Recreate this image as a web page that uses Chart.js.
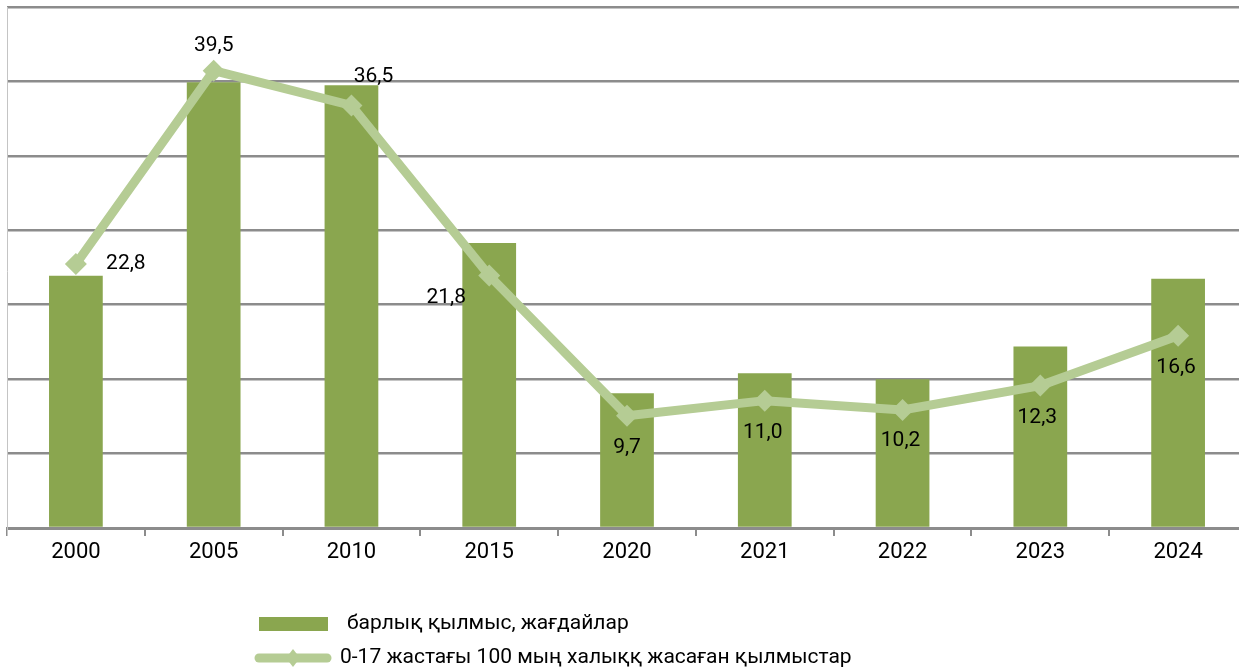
<!DOCTYPE html>
<html>
<head>
<meta charset="utf-8">
<script src="https://cdn.jsdelivr.net/npm/chart.js@4/dist/chart.umd.min.js"></script>
<style>
  html, body { margin: 0; padding: 0; background: #fff; overflow: hidden; }
  #wrap { position: relative; width: 1247px; height: 672px; }
</style>
</head>
<body>
<div id="wrap"><canvas id="crime-chart" width="1247" height="672"></canvas></div>
<script>
const years = ['2000', '2005', '2010', '2015', '2020', '2021', '2022', '2023', '2024'];
// барлық қылмыс, жағдайлар
const totalCases = [3390, 5990, 5950, 3830, 1810, 2080, 2000, 2440, 3350];
// 0-17 жастағы 100 мың халыққа
const youthRate = [22.8, 39.5, 36.5, 21.8, 9.7, 11.0, 10.2, 12.3, 16.6];

const barLabel = 'барлық қылмыс, жағдайлар';
const lineLabel = '0-17 жастағы 100 мың халыққ жасаған қылмыстар';

const BAR_COLOR = '#8aa64f';
const LINE_COLOR = '#b5cc94';
const GRID_COLOR = '#8c8c8c';
const FONT = 'Roboto, "Noto Sans", sans-serif';

// where each value label sits relative to its point: [dx, dy]
const labelOffsets = [[50, 0], [0, -25], [22, -29], [-43, 22], [0, 32], [-2, 32], [-2, 31], [-3, 32], [-2, 32]];

const valueLabels = {
  id: 'valueLabels',
  afterDatasetsDraw(chart) {
    const ctx = chart.ctx;
    const meta = chart.getDatasetMeta(1);
    ctx.save();
    ctx.font = '21px ' + FONT;
    ctx.fillStyle = '#000';
    ctx.textAlign = 'center';
    ctx.textBaseline = 'middle';
    meta.data.forEach((pt, i) => {
      const [dx, dy] = labelOffsets[i];
      const txt = youthRate[i].toFixed(1).replace('.', ',');
      ctx.fillText(txt, pt.x + dx, pt.y + dy);
    });
    ctx.restore();
  }
};

// left axis line + legend under the chart
const decorations = {
  id: 'decorations',
  afterDraw(chart) {
    const ctx = chart.ctx;
    const a = chart.chartArea;
    ctx.save();
    ctx.strokeStyle = '#c4c4c4';
    ctx.lineWidth = 1;
    ctx.beginPath();
    ctx.moveTo(a.left + 0.5, a.top);
    ctx.lineTo(a.left + 0.5, a.bottom + 8);
    ctx.stroke();

    ctx.font = '21px ' + FONT;
    ctx.fillStyle = '#000';
    ctx.textBaseline = 'middle';

    const y1 = 624, y2 = 658;
    ctx.fillStyle = BAR_COLOR;
    ctx.fillRect(259, y1 - 7, 69, 14);
    ctx.fillStyle = '#000';
    ctx.fillText(barLabel, 347, y1);

    ctx.strokeStyle = LINE_COLOR;
    ctx.lineWidth = 9;
    ctx.lineCap = 'round';
    ctx.beginPath();
    ctx.moveTo(259, y2);
    ctx.lineTo(327, y2);
    ctx.stroke();
    ctx.fillStyle = LINE_COLOR;
    ctx.beginPath();
    ctx.moveTo(293, y2 - 9);
    ctx.lineTo(300, y2);
    ctx.lineTo(293, y2 + 9);
    ctx.lineTo(286, y2);
    ctx.closePath();
    ctx.fill();
    ctx.fillStyle = '#000';
    ctx.fillText(lineLabel, 340, y2);
    ctx.restore();
  }
};

new Chart(document.getElementById('crime-chart'), {
  type: 'bar',
  data: {
    labels: years,
    datasets: [
      {
        type: 'bar',
        label: barLabel,
        data: totalCases,
        backgroundColor: BAR_COLOR,
        barPercentage: 0.39,
        categoryPercentage: 1,
        yAxisID: 'y',
        order: 2
      },
      {
        type: 'line',
        label: lineLabel,
        data: youthRate,
        borderColor: LINE_COLOR,
        backgroundColor: LINE_COLOR,
        borderWidth: 9,
        pointStyle: 'rectRot',
        pointRadius: 11,
        pointBorderWidth: 0,
        pointBackgroundColor: LINE_COLOR,
        tension: 0,
        yAxisID: 'y1',
        order: 1
      }
    ]
  },
  options: {
    responsive: false,
    animation: false,
    layout: {
      autoPadding: false,
      padding: { left: 7, top: 7, right: 0, bottom: 0 }
    },
    plugins: {
      legend: { display: false },
      tooltip: { enabled: false }
    },
    scales: {
      x: {
        offset: true,
        grid: {
          offset: true,
          drawOnChartArea: false,
          drawTicks: true,
          tickLength: 8,
          color: GRID_COLOR,
          lineWidth: 2
        },
        border: { display: true, color: GRID_COLOR, width: 3 },
        ticks: {
          color: '#000',
          font: { family: FONT, size: 22 },
          padding: 3
        },
        afterFit(scale) { scale.height = 144; }
      },
      y: {
        display: true,
        min: 0,
        max: 7000,
        ticks: { display: false, stepSize: 1000 },
        grid: { color: GRID_COLOR, lineWidth: 2.5, drawTicks: false },
        border: { display: false },
        afterFit(scale) { scale.width = 0; }
      },
      y1: {
        display: false,
        min: 0,
        max: 45
      }
    }
  },
  plugins: [valueLabels, decorations]
});
</script>
</body>
</html>
